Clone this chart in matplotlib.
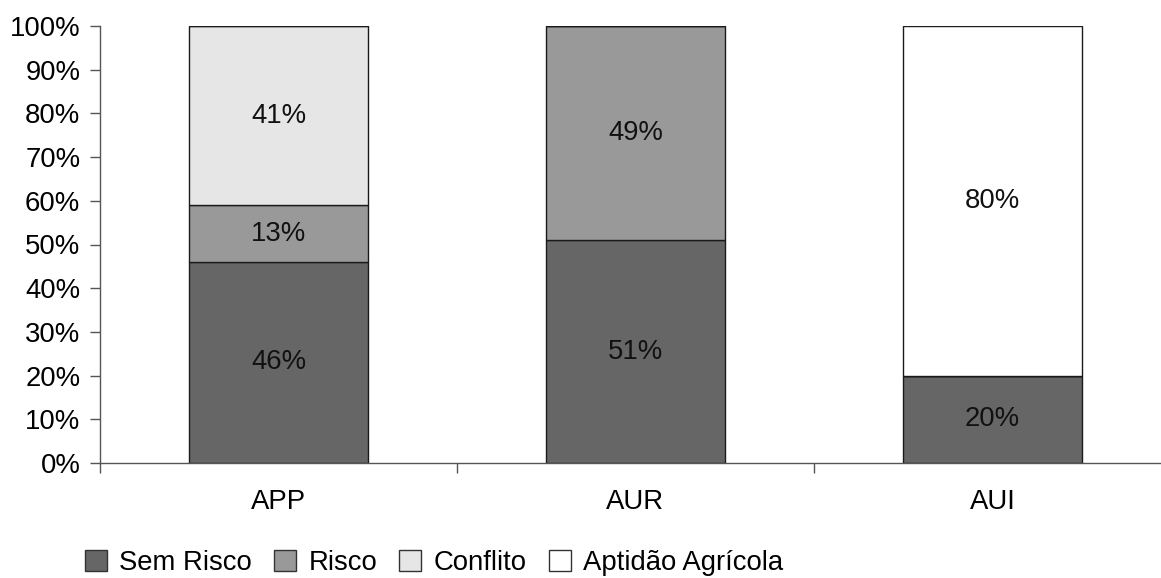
import numpy as np
import matplotlib.pyplot as plt
from matplotlib.ticker import FixedLocator, PercentFormatter

plt.rcParams['font.family'] = ['Liberation Sans', 'DejaVu Sans']

categories = ['APP', 'AUR', 'AUI']
series_names = ['Sem Risco', 'Risco', 'Conflito', 'Aptidão Agrícola']
sem_risco = [46, 51, 20]
risco = [13, 49, 0]
conflito = [41, 0, 0]
aptidao = [0, 0, 80]
colors = ['#666666', '#999999', '#e6e6e6', '#ffffff']

fs = 19.8
fig = plt.figure(figsize=(11.61, 5.78), dpi=100)
ax = fig.add_axes([100 / 1161, 115 / 578, 1071 / 1161, 437 / 578])

x = np.arange(len(categories))
bottom = np.zeros(len(categories))
handles = []
for name, vals, col in zip(series_names, [sem_risco, risco, conflito, aptidao], colors):
    vals = np.array(vals, dtype=float)
    bars = ax.bar(x, vals, width=0.5, bottom=bottom, color=col,
                  edgecolor='#1a1a1a', linewidth=1.0, label=name)
    handles.append(bars)
    for xi, b, v in zip(x, bottom, vals):
        if v > 0:
            ax.text(xi, b + v / 2, f'{int(v)}%', ha='center', va='center',
                    fontsize=fs, color='#111111')
    bottom += vals

ax.set_xlim(-0.5, 2.5)
ax.set_ylim(0, 100)
ax.set_yticks(np.arange(0, 101, 10))
ax.yaxis.set_major_formatter(PercentFormatter(decimals=0))
ax.set_xticks(x)
ax.set_xticklabels(categories)
ax.xaxis.set_minor_locator(FixedLocator([-0.5, 0.5, 1.5, 2.5]))

for side in ['top', 'right']:
    ax.spines[side].set_visible(False)
for side in ['left', 'bottom']:
    ax.spines[side].set_color('#555555')
    ax.spines[side].set_linewidth(1.0)

ax.tick_params(axis='y', direction='out', length=7.2, width=1.0, color='#555555',
               pad=7, labelsize=fs)
ax.tick_params(axis='x', which='major', length=0, pad=19, labelsize=fs)
ax.tick_params(axis='x', which='minor', direction='out', length=7.2, width=1.0,
               color='#555555')

leg = fig.legend(handles=handles, labels=series_names, loc='center left',
                 bbox_to_anchor=(85 / 1161, 1 - 563 / 578), ncol=4, frameon=False,
                 fontsize=fs, handlelength=0.8, handleheight=0.8,
                 handletextpad=0.45, columnspacing=0.8, borderpad=0, borderaxespad=0)
for p in leg.get_patches():
    p.set_edgecolor('#333333')

fig.savefig('out.png', dpi=100)
